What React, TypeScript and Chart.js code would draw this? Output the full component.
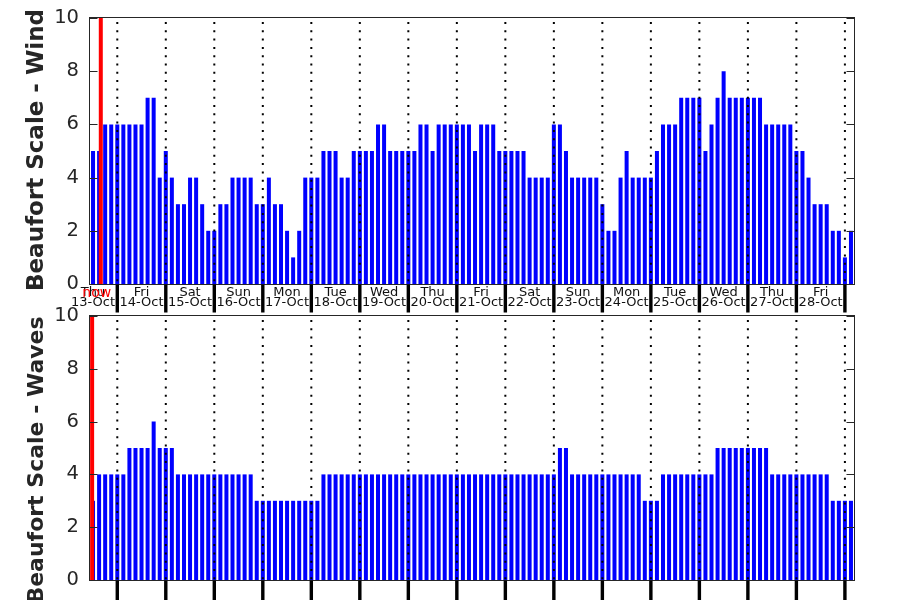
import React, { useEffect, useRef } from 'react';
import { Chart, registerables } from 'chart.js';

Chart.register(...registerables);

// Day labels (tick labels at each day's noon)
const dayNames = ['Thu', 'Fri', 'Sat', 'Sun', 'Mon', 'Tue', 'Wed', 'Thu', 'Fri', 'Sat', 'Sun', 'Mon', 'Tue', 'Wed', 'Thu', 'Fri'];
const dayDates = ['13-Oct', '14-Oct', '15-Oct', '16-Oct', '17-Oct', '18-Oct', '19-Oct', '20-Oct', '21-Oct', '22-Oct', '23-Oct', '24-Oct', '25-Oct', '26-Oct', '27-Oct', '28-Oct'];

// 3-hourly values starting 13-Oct 12:00 and ending 29-Oct 03:00
const windBeaufort = [
  5, 5, 6, 6,
  6, 6, 6, 6, 6, 7, 7, 4,
  5, 4, 3, 3, 4, 4, 3, 2,
  2, 3, 3, 4, 4, 4, 4, 3,
  3, 4, 3, 3, 2, 1, 2, 4,
  4, 4, 5, 5, 5, 4, 4, 5,
  5, 5, 5, 6, 6, 5, 5, 5,
  5, 5, 6, 6, 5, 6, 6, 6,
  6, 6, 6, 5, 6, 6, 6, 5,
  5, 5, 5, 5, 4, 4, 4, 4,
  6, 6, 5, 4, 4, 4, 4, 4,
  3, 2, 2, 4, 5, 4, 4, 4,
  4, 5, 6, 6, 6, 7, 7, 7,
  7, 5, 6, 7, 8, 7, 7, 7,
  7, 7, 7, 6, 6, 6, 6, 6,
  5, 5, 4, 3, 3, 3, 2, 2,
  1, 2,
];

const wavesBeaufort = [
  3, 4, 4, 4,
  4, 4, 5, 5, 5, 5, 6, 5,
  5, 5, 4, 4, 4, 4, 4, 4,
  4, 4, 4, 4, 4, 4, 4, 3,
  3, 3, 3, 3, 3, 3, 3, 3,
  3, 3, 4, 4, 4, 4, 4, 4,
  4, 4, 4, 4, 4, 4, 4, 4,
  4, 4, 4, 4, 4, 4, 4, 4,
  4, 4, 4, 4, 4, 4, 4, 4,
  4, 4, 4, 4, 4, 4, 4, 4,
  4, 5, 5, 4, 4, 4, 4, 4,
  4, 4, 4, 4, 4, 4, 4, 3,
  3, 3, 4, 4, 4, 4, 4, 4,
  4, 4, 4, 5, 5, 5, 5, 5,
  5, 5, 5, 5, 4, 4, 4, 4,
  4, 4, 4, 4, 4, 4, 3, 3,
  3, 3,
];

const yTicks = [0, 2, 4, 6, 8, 10];
// "now" marker positions, in 3-hour steps from 13-Oct 12:00
const nowWind = 1.28;
const nowWaves = -0.15;

const STEPS_PER_DAY = 8;
const FIRST_HOUR_OFFSET = 4; // first sample is at 12:00 -> 4 steps after midnight
const noonIdx = dayDates.map((_, d) => d * STEPS_PER_DAY);
const midnightIdx: number[] = [];
for (let d = 1; d <= dayDates.length; d++) midnightIdx.push(d * STEPS_PER_DAY - FIRST_HOUR_OFFSET);

const FONT = '"DejaVu Sans", "Liberation Sans", sans-serif';
const AXIS_COLOR = '#262626';

function makeDecor(cfg: { nowIndex: number; nowLabel: boolean; title: string; titleCenterY: number; titleSize: number; tickLen: number }) {
  return {
    id: 'decor',
    afterDatasetsDraw(chart: any) {
      const { ctx, chartArea: a, scales } = chart;
      const x = scales.x;
      const y = scales.y;
      ctx.save();
      // dotted day separators
      ctx.strokeStyle = '#000000';
      ctx.lineWidth = 2;
      ctx.setLineDash([2, 6.3]);
      for (const m of midnightIdx) {
        const px = x.getPixelForValue(m);
        if (px < a.left || px > a.right) continue;
        ctx.beginPath();
        ctx.moveTo(px, a.top + 4);
        ctx.lineTo(px, a.bottom);
        ctx.stroke();
      }
      ctx.setLineDash([]);
      // now line
      const nx = x.getPixelForValue(cfg.nowIndex);
      ctx.strokeStyle = '#ff0000';
      ctx.lineWidth = 4;
      ctx.beginPath();
      ctx.moveTo(nx, a.top);
      ctx.lineTo(nx, a.bottom);
      ctx.stroke();
      // box
      ctx.strokeStyle = AXIS_COLOR;
      ctx.lineWidth = 1;
      const L = Math.round(a.left) - 0.5;
      const R = Math.round(a.right) + 0.5;
      const T = Math.round(a.top) - 0.5;
      const B = Math.round(a.bottom) + 0.5;
      ctx.strokeRect(L, T, R - L, B - T);
      // inner y ticks both sides
      for (const v of yTicks) {
        const py = Math.round(y.getPixelForValue(v)) + 0.5;
        ctx.beginPath();
        ctx.moveTo(L, py);
        ctx.lineTo(L + 8, py);
        ctx.moveTo(R, py);
        ctx.lineTo(R - 8, py);
        ctx.stroke();
      }
      // thick day ticks below axis
      ctx.fillStyle = '#000000';
      for (const m of midnightIdx) {
        const px = x.getPixelForValue(m);
        if (px < a.left || px > a.right) continue;
        ctx.fillRect(px - 1.7, B, 3.4, cfg.tickLen);
      }
      // now label
      if (cfg.nowLabel) {
        ctx.font = `14px ${FONT}`;
        ctx.fillStyle = '#ff0000';
        ctx.textAlign = 'center';
        ctx.textBaseline = 'alphabetic';
        ctx.fillText('now', nx - 4, B + 12);
      }
      // y-axis title
      ctx.save();
      ctx.font = `bold ${cfg.titleSize}px ${FONT}`;
      ctx.fillStyle = AXIS_COLOR;
      ctx.textAlign = 'center';
      ctx.textBaseline = 'alphabetic';
      ctx.translate(43, cfg.titleCenterY);
      ctx.rotate(-Math.PI / 2);
      ctx.fillText(cfg.title, 0, 0);
      ctx.restore();
      ctx.restore();
    },
  };
}

function buildChart(
  canvas: HTMLCanvasElement,
  values: number[],
  opts: { showLabels: boolean; axisHeight: number; padTop: number; nowIndex: number; nowLabel: boolean; title: string; titleCenterY: number; titleSize: number; tickLen: number }
) {
  return new Chart(canvas, {
    type: 'bar',
    data: {
      datasets: [
        {
          data: values.map((v, i) => ({ x: i, y: v })),
          backgroundColor: '#0000ff',
          borderWidth: 0,
          barPercentage: 0.66,
          categoryPercentage: 1,
        },
      ],
    },
    options: {
      animation: false,
      responsive: false,
      devicePixelRatio: 1,
      layout: { padding: { left: 0, right: 46, top: opts.padTop, bottom: 0 } },
      plugins: { legend: { display: false }, tooltip: { enabled: false }, title: { display: false } },
      scales: {
        x: {
          type: 'linear',
          min: -0.5,
          max: values.length - 0.5,
          offset: false,
          grid: { display: false, drawTicks: false },
          border: { display: false },
          afterBuildTicks: (scale: any) => {
            scale.ticks = noonIdx.map((v) => ({ value: v }));
          },
          afterFit: (scale: any) => {
            scale.height = opts.axisHeight;
            scale.paddingLeft = 0;
            scale.paddingRight = 0;
            scale.paddingTop = 0;
            scale.paddingBottom = 0;
          },
          ticks: {
            display: opts.showLabels,
            autoSkip: false,
            maxRotation: 0,
            minRotation: 0,
            padding: 4,
            color: '#111111',
            font: { family: FONT, size: 13, lineHeight: 0.76 },
            callback: (v: any) => {
              const d = Math.round(Number(v) / STEPS_PER_DAY);
              return [dayNames[d], dayDates[d]];
            },
          },
        },
        y: {
          min: 0,
          max: 10,
          grid: { display: false, drawTicks: false },
          border: { display: false },
          afterFit: (scale: any) => {
            scale.width = 90;
            scale.paddingTop = 0;
            scale.paddingBottom = 0;
            scale.paddingLeft = 0;
            scale.paddingRight = 0;
          },
          afterBuildTicks: (scale: any) => {
            scale.ticks = yTicks.map((v) => ({ value: v }));
          },
          ticks: {
            padding: 11,
            color: AXIS_COLOR,
            font: { family: FONT, size: 19.5 },
          },
        },
      },
    },
    plugins: [makeDecor(opts)],
  } as any);
}

export default function App() {
  const topRef = useRef<HTMLCanvasElement | null>(null);
  const botRef = useRef<HTMLCanvasElement | null>(null);

  useEffect(() => {
    const c1 = buildChart(topRef.current!, windBeaufort, {
      showLabels: true,
      axisHeight: 32,
      padTop: 18,
      nowIndex: nowWind,
      nowLabel: true,
      title: 'Beaufort Scale - Wind',
      titleCenterY: 150,
      titleSize: 23,
      tickLen: 28,
    });
    const c2 = buildChart(botRef.current!, wavesBeaufort, {
      showLabels: false,
      axisHeight: 20,
      padTop: 16,
      nowIndex: nowWaves,
      nowLabel: false,
      title: 'Beaufort Scale - Waves',
      titleCenterY: 160,
      titleSize: 22,
      tickLen: 30,
    });
    return () => {
      c1.destroy();
      c2.destroy();
    };
  }, []);

  return (
    <div style={{ position: 'absolute', left: 0, top: 0, width: 900, height: 600, overflow: 'hidden', background: '#ffffff' }}>
      <canvas ref={topRef} width={900} height={316} style={{ position: 'absolute', left: 0, top: 0, width: 900, height: 316 }} />
      <canvas ref={botRef} width={900} height={300} style={{ position: 'absolute', left: 0, top: 300, width: 900, height: 300 }} />
    </div>
  );
}
